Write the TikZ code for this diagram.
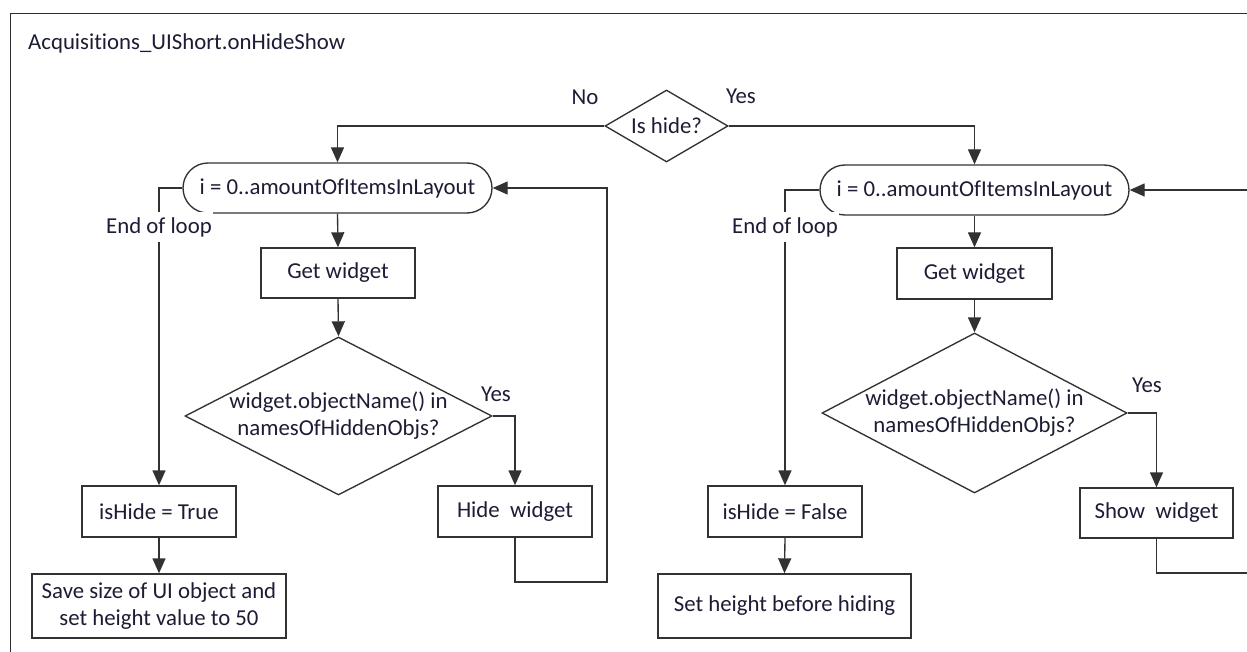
\documentclass[tikz,border=0pt]{standalone}
\usepackage{fontspec}
\setmainfont{Carlito}[Ligatures=NoCommon]
\usetikzlibrary{shapes.geometric,shapes.misc,arrows.meta}

\begin{document}
\begin{tikzpicture}[x=1pt,y=-1pt,
  ink/.style={draw={rgb,255:red,50;green,50;blue,50}, line width=1.35pt},
  txt/.style={text={rgb,255:red,28;green,28;blue,52}, font=\fontsize{22.8}{27}\selectfont},
  box/.style={ink, txt, rectangle, inner sep=0pt, align=center},
  loopbox/.style={ink, txt, rounded rectangle, rounded rectangle arc length=180,
                  inner sep=0pt, minimum width=309pt, minimum height=50pt},
  dia/.style={ink, diamond, inner sep=0pt},
  lbl/.style={txt, inner sep=1pt},
  flow/.style={ink, -{Triangle[length=15pt,width=13pt]}},
]
\useasboundingbox (0,0) rectangle (1247,652);
\clip (0,0) rectangle (1247,652);

% outer frame of the function
\draw[draw={rgb,255:red,45;green,45;blue,45}, line width=1.8pt] (10.5,670) |- (1270,13.5);
\node[txt, anchor=base west, inner sep=0pt] (title) at (28,49.5) {Acquisitions\_UIShort.onHideShow};

% top decision
\node[dia, minimum width=123pt, minimum height=72pt,
      label={[txt]center:Is hide?}] (ishide) at (666.5,126) {};
\node[lbl] (no)  at (585,97) {No};
\node[lbl] (yes) at (741,96) {Yes};

% ---------- hide branch ----------
\node[loopbox] (loopA) at (337.5,188) {i = 0..amountOfItemsInLayout};
\node[box, minimum width=154pt, minimum height=50pt] (getA) at (338,273) {Get widget};
\node[dia, minimum width=307pt, minimum height=158pt,
      label={[txt,align=center]center:widget.objectName() in\\namesOfHiddenObjs?}] (diaA) at (338.5,416) {};
\node[lbl] (yesA) at (496,394) {Yes};
\node[box, minimum width=154pt, minimum height=51pt] (hideW) at (515,511.5) {Hide\ \ widget};
\node[box, minimum width=154pt, minimum height=51pt] (trueA) at (159,511.5) {isHide = True};
\node[box, minimum width=254pt, minimum height=64pt] (saveA) at (159,606)
      {Save size of UI object and\\set height value to 50};
\coordinate (backA) at (607,582);

\draw[flow] (ishide.west) -| (loopA.north);
\draw[flow] (loopA.south) -- (getA.north);
\draw[flow] (getA.south) -- (diaA.north);
\draw[flow] (diaA.east) -| (hideW.north);
\draw[flow] (hideW.south) |- (backA) |- (loopA.east);
\draw[flow] (loopA.west) -| (trueA.north);
\draw[flow] (trueA.south) -- (saveA.north);
\node[lbl, fill=white, inner ysep=5pt] (endA) at (159,227) {End of loop};

% ---------- show branch ----------
\node[loopbox] (loopB) at (974.5,190) {i = 0..amountOfItemsInLayout};
\node[box, minimum width=155pt, minimum height=51pt] (getB) at (974.5,273.5) {Get widget};
\node[dia, minimum width=305pt, minimum height=160pt,
      label={[txt,align=center]center:widget.objectName() in\\namesOfHiddenObjs?}] (diaB) at (974.5,413) {};
\node[lbl] (yesB) at (1147,385) {Yes};
\node[box, minimum width=153pt, minimum height=50pt] (showW) at (1156.5,513) {Show\ \ widget};
\node[box, minimum width=154pt, minimum height=51pt] (falseB) at (785,511.5) {isHide = False};
\node[box, minimum width=253pt, minimum height=64pt] (setB) at (784.5,606) {Set height before hiding};
\coordinate (backB) at (1290,573);

\draw[flow] (ishide.east) -| (loopB.north);
\draw[flow] (loopB.south) -- (getB.north);
\draw[flow] (getB.south) -- (diaB.north);
\draw[flow] (diaB.east) -| (showW.north);
\draw[flow] (showW.south) |- (backB) |- (loopB.east);
\draw[flow] (loopB.west) -| (falseB.north);
\draw[flow] (falseB.south) -- (setB.north);
\node[lbl, fill=white, inner ysep=5pt] (endB) at (785,227) {End of loop};

\end{tikzpicture}
\end{document}
